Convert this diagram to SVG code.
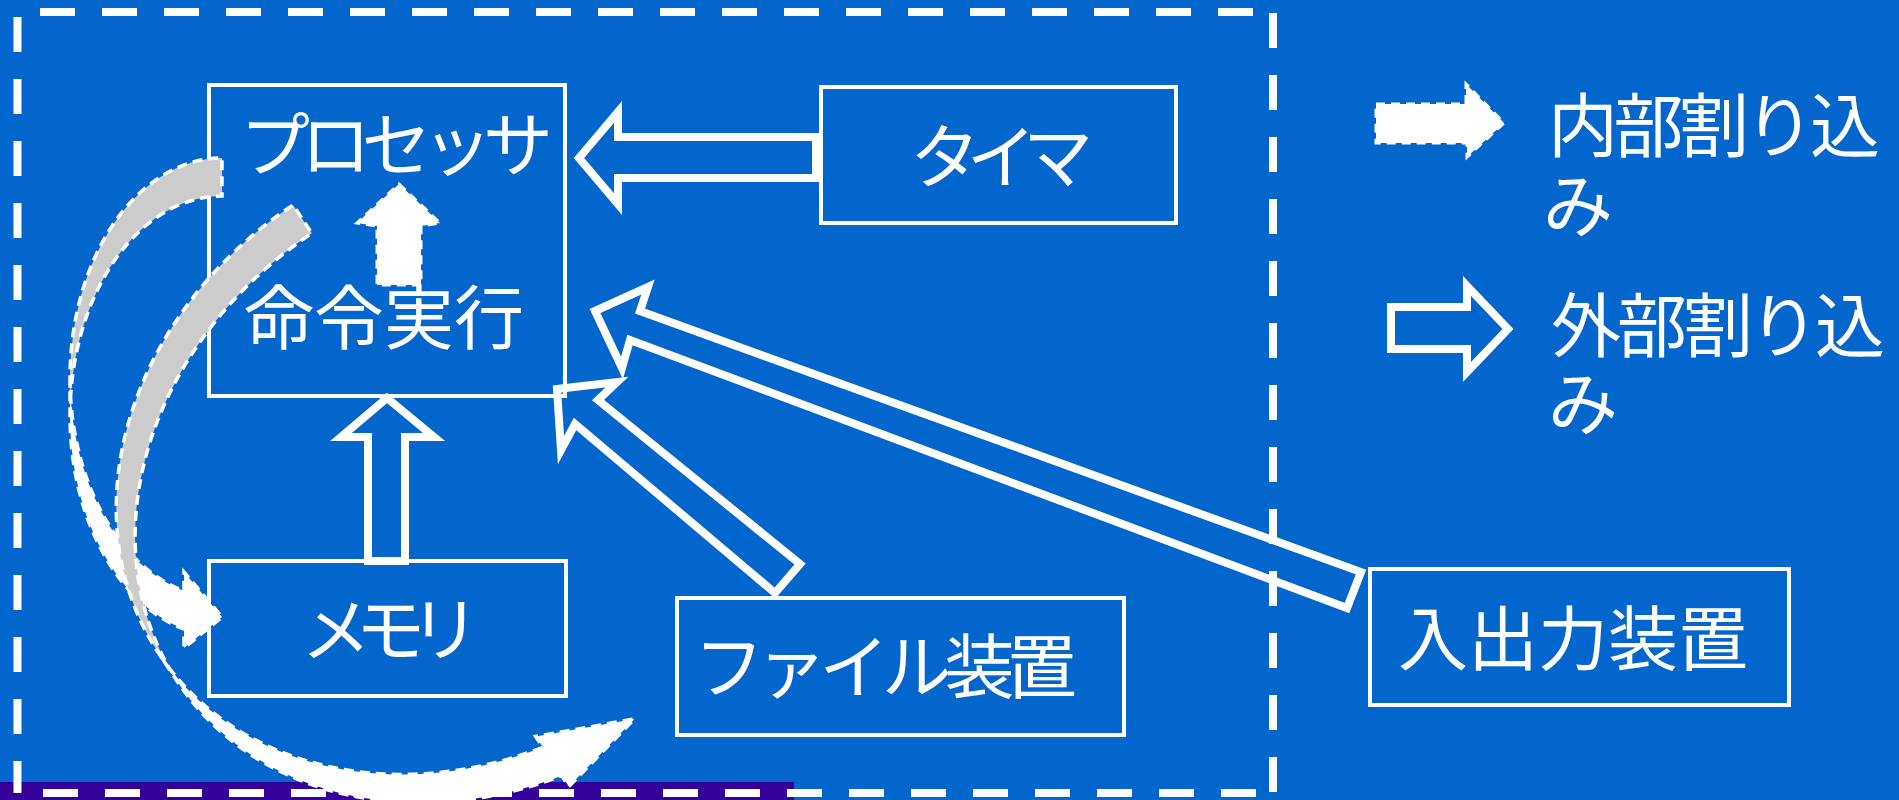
<svg xmlns="http://www.w3.org/2000/svg" width="1899" height="800" viewBox="0 0 1899 800">
<defs>
<style>
.bg{fill:#0366CC}
.frame{fill:none;stroke:#fff;stroke-width:8;stroke-dasharray:35 27}
.box{fill:none;stroke:#fff;stroke-width:4}
.lbl{font-family:"Noto Sans CJK JP","Noto Sans",sans-serif;font-size:70px;fill:#fff}
.hollow{fill:none;stroke:#fff;stroke-width:8;stroke-linejoin:miter;stroke-miterlimit:10}
.light{fill:#fff}
.dark{fill:#ccc}
.dashout{fill:none;stroke:#fff;stroke-width:3.5;stroke-dasharray:10 6}
.solidarrow{fill:#fff;stroke:#fff;stroke-width:3;stroke-dasharray:9 6}
</style>
</defs>
<rect class="bg" x="0" y="0" width="1899" height="800"/>
<rect x="0" y="782" width="794" height="18" fill="#330099"/>
<g id="frame">
<path class="frame" d="M40,12 H1273"/>
<path class="frame" d="M1273,13 V793"/>
<path class="frame" d="M43,793 H1273"/>
<path class="frame" d="M17.5,17 V793"/>
</g>
<g id="processor">
<rect class="box" x="209" y="85" width="356" height="311"/>
<text class="lbl" x="240" y="171" textLength="313" lengthAdjust="spacing">プロセッサ</text>
<text class="lbl" x="244" y="344">命令実行</text>
</g>
<g id="timer">
<rect class="box" x="821" y="87" width="355" height="136"/>
<text class="lbl" x="910" y="183" textLength="183" lengthAdjust="spacing">タイマ</text>
</g>
<g id="memory">
<rect class="box" x="209" y="561" width="357" height="135"/>
<text class="lbl" x="301" y="656" textLength="179" lengthAdjust="spacing">メモリ</text>
</g>
<g id="file-device">
<rect class="box" x="677" y="598" width="447" height="137"/>
<text class="lbl" x="694" y="693" textLength="383" lengthAdjust="spacing">ファイル装置</text>
</g>
<g id="io-device">
<rect class="box" x="1370" y="569" width="419" height="136"/>
<text class="lbl" x="1398" y="665">入出力装置</text>
</g>
<g id="connectors">
<polygon class="solidarrow" points="399,184 440,223 421,226 421,285 377,285 377,226 357,223"/>
<polygon class="hollow" points="579,158 618,112 618,137 816,137 816,178 618,178 618,204"/>
<polygon class="hollow" points="387,398 434,437 405,437 405,561 368,561 368,437 341,437"/>
<polygon class="hollow" points="557,389 617,382 598,400 800,564 775,593 575,424 561,450"/>
<polygon class="hollow" points="595,311 648,287 640,311 1361,572 1347,608 630,340 622,368"/>
<g id="curved-a">
<path class="light" d="M70,378 A152,220 0 0 0 184,591 L184,572 L222,617 L184,648 L184,629 A152,220 0 0 1 70,416 Z"/>
<path class="dark" d="M222,196 A152,220 0 0 0 70.6,397 A152,220 0 0 1 222,158 Z"/>
<path class="dashout" d="M70,378 A152,220 0 0 0 184,591 L184,572 L222,617 L184,648 L184,629 A152,220 0 0 1 70,416 L70,378 A152,220 0 0 1 222,158 L222,196 A152,220 0 0 0 70.6,397"/>
</g>
<g id="curved-b" transform="translate(293,205) rotate(-33.6)">
<path class="light" d="M-360,300 A360,300 0 0 0 -92,590 L-92,577 L0,617 L-92,637 L-92,624 A360,300 0 0 1 -360,334 Z"/>
<path class="dark" d="M0,34 A360,300 0 0 0 -359.4,317 A360,300 0 0 1 0,0 Z"/>
<path class="dashout" d="M-360,300 A360,300 0 0 0 -92,590 L-92,577 L0,617 L-92,637 L-92,624 A360,300 0 0 1 -360,334 L-360,300 A360,300 0 0 1 0,0 L0,34 A360,300 0 0 0 -359.4,317"/>
</g>
</g>
<g id="legend">
<polygon class="solidarrow" points="1376,104 1466,104 1466,84 1504,123 1467,157 1467,143 1376,143"/>
<text class="lbl"><tspan x="1548" y="152" textLength="332" lengthAdjust="spacing">内部割り込</tspan><tspan x="1543" y="232">み</tspan></text>
<polygon class="hollow" points="1391,307 1467,307 1467,286 1508,329 1467,372 1467,349 1391,349"/>
<text class="lbl"><tspan x="1551" y="352" textLength="334" lengthAdjust="spacing">外部割り込</tspan><tspan x="1548" y="430">み</tspan></text>
</g>
</svg>
